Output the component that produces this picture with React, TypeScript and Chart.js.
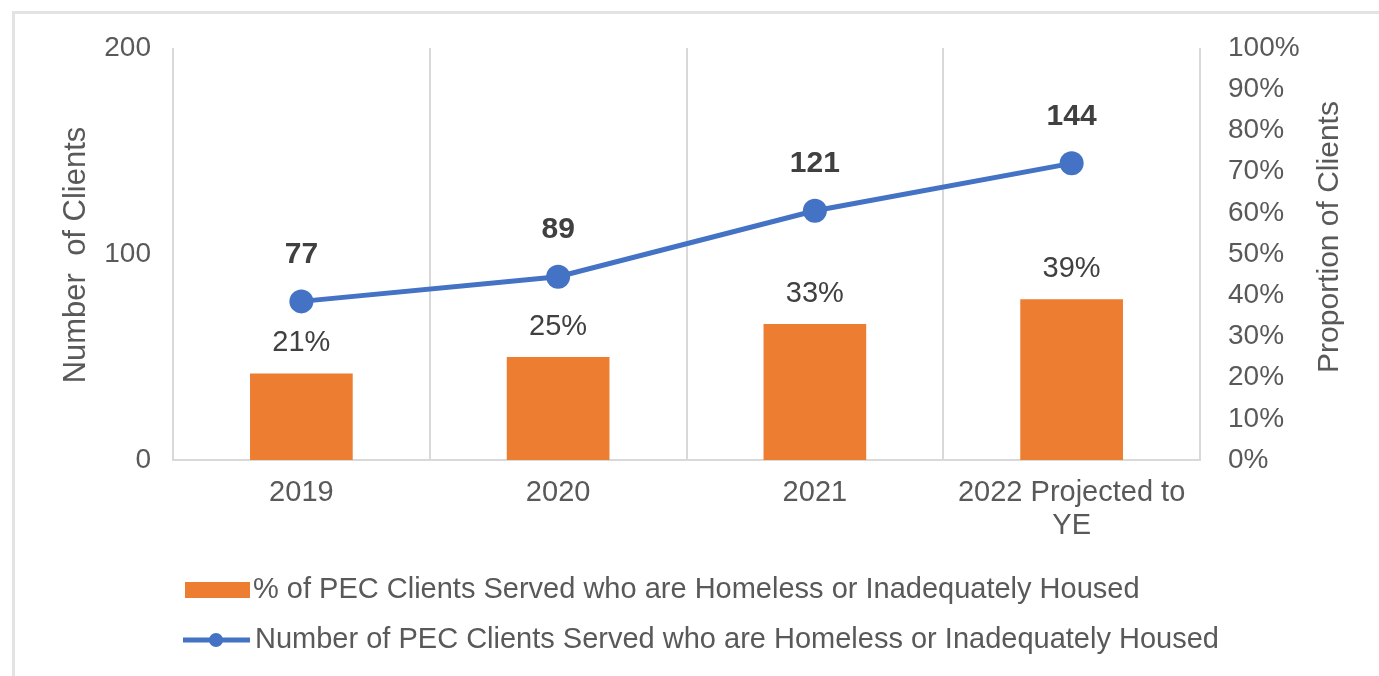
import React, { useEffect, useRef } from "react";
import { Chart, registerables } from "chart.js";

Chart.register(...registerables);

const categories: (string | string[])[] = ["2019", "2020", "2021", ["2022 Projected to", "YE"]];
const pctValues = [21, 25, 33, 39];
const countValues = [77, 89, 121, 144];
const pctLabel = "% of PEC Clients Served who are Homeless or Inadequately Housed";
const countLabel = "Number of PEC Clients Served who are Homeless or Inadequately Housed";
const leftTitle = "Number  of Clients";
const rightTitle = "Proportion of Clients";

const ORANGE = "#ED7D31";
const BLUE = "#4472C4";
const TEXT = "#595959";
const DARK = "#404040";
const GRID = "#d9d9d9";
const FONT = "'Liberation Sans', Arial, sans-serif";

const overlayPlugin = {
  id: "overlay",
  afterDatasetsDraw(chart: any) {
    const ctx = chart.ctx;
    ctx.save();
    ctx.textAlign = "center";
    ctx.textBaseline = "middle";
    chart.data.datasets.forEach((ds: any, i: number) => {
      const meta = chart.getDatasetMeta(i);
      meta.data.forEach((el: any, j: number) => {
        if (ds.type === "bar") {
          ctx.font = `29px ${FONT}`;
          ctx.fillStyle = DARK;
          ctx.fillText(ds.data[j] + "%", el.x, el.y - 30);
        } else {
          ctx.font = `bold 30px ${FONT}`;
          ctx.fillStyle = DARK;
          ctx.fillText(String(ds.data[j]), el.x, el.y - 47);
        }
      });
    });
    ctx.restore();
  },
  afterDraw(chart: any) {
    const ctx = chart.ctx;
    const area = chart.chartArea;
    ctx.save();
    ctx.fillStyle = TEXT;
    ctx.textAlign = "center";
    ctx.textBaseline = "middle";
    ctx.save();
    ctx.font = `31px ${FONT}`;
    ctx.translate(76, (area.top + area.bottom) / 2 + 1);
    ctx.rotate(-Math.PI / 2);
    ctx.fillText(leftTitle, 0, 0);
    ctx.restore();
    ctx.save();
    ctx.font = `30px ${FONT}`;
    ctx.translate(1330, (area.top + area.bottom) / 2 - 17);
    ctx.rotate(-Math.PI / 2);
    ctx.fillText(rightTitle, 0, 0);
    ctx.restore();

    // legend
    const lx = area.left + 12;
    const y1 = area.bottom + 130;
    const y2 = area.bottom + 180;
    ctx.fillStyle = ORANGE;
    ctx.fillRect(lx, y1 - 8, 65, 16);
    ctx.strokeStyle = BLUE;
    ctx.lineWidth = 5;
    ctx.beginPath();
    ctx.moveTo(lx - 2, y2);
    ctx.lineTo(lx + 65, y2);
    ctx.stroke();
    ctx.fillStyle = BLUE;
    ctx.beginPath();
    ctx.arc(lx + 31, y2, 7, 0, Math.PI * 2);
    ctx.fill();
    ctx.font = `29px ${FONT}`;
    ctx.fillStyle = TEXT;
    ctx.textAlign = "left";
    ctx.fillText(pctLabel, lx + 68, y1);
    ctx.fillText(countLabel, lx + 70, y2);
    ctx.restore();
  },
};

export default function App() {
  const ref = useRef<HTMLCanvasElement | null>(null);
  useEffect(() => {
    if (!ref.current) return;
    const chart = new Chart(ref.current, {
      data: {
        labels: categories as any,
        datasets: [
          {
            type: "bar",
            label: pctLabel,
            data: pctValues,
            backgroundColor: ORANGE,
            yAxisID: "yRight",
            barPercentage: 0.4,
            categoryPercentage: 1,
            order: 1,
          } as any,
          {
            type: "line",
            label: countLabel,
            data: countValues,
            borderColor: BLUE,
            backgroundColor: BLUE,
            borderWidth: 5,
            pointRadius: 12,
            pointHoverRadius: 12,
            pointBackgroundColor: BLUE,
            pointBorderWidth: 0,
            yAxisID: "yLeft",
            tension: 0,
            order: 0,
          } as any,
        ],
      },
      options: {
        responsive: false,
        animation: false,
        devicePixelRatio: 1,
        layout: { padding: { top: 48, left: 0, right: 0, bottom: 0 } },
        plugins: {
          legend: { display: false },
          tooltip: { enabled: false },
          title: { display: false },
        },
        scales: {
          x: {
            type: "category",
            offset: true,
            grid: { offset: true, color: GRID, lineWidth: 2, drawTicks: false },
            border: { display: true, color: GRID, width: 2 },
            ticks: {
              color: TEXT,
              font: { family: FONT, size: 29, lineHeight: 1.14 },
              padding: 16,
              maxRotation: 0,
              autoSkip: false,
            },
            afterFit: (s: any) => {
              s.height = 216;
            },
          },
          yLeft: {
            type: "linear",
            position: "left",
            min: 0,
            max: 200,
            grid: { display: false, drawTicks: false },
            border: { display: false },
            ticks: {
              stepSize: 100,
              color: TEXT,
              font: { family: FONT, size: 28 },
              padding: 22,
            },
            afterFit: (s: any) => {
              s.width = 173;
            },
          },
          yRight: {
            type: "linear",
            position: "right",
            min: 0,
            max: 100,
            grid: { display: false, drawTicks: false },
            border: { display: false },
            ticks: {
              stepSize: 10,
              color: TEXT,
              font: { family: FONT, size: 28 },
              padding: 28,
              callback: (v: any) => v + "%",
            },
            afterFit: (s: any) => {
              s.width = 179;
            },
          },
        } as any,
      },
      plugins: [overlayPlugin],
    } as any);
    return () => chart.destroy();
  }, []);

  return (
    <div style={{ position: "fixed", left: 0, top: 0, width: 1379, height: 676, background: "#fff", overflow: "hidden" }}>
      <div
        style={{
          position: "absolute",
          left: 12,
          top: 11,
          width: 1400,
          height: 720,
          border: "3px solid #e3e3e3",
          boxSizing: "border-box",
        }}
      />
      <canvas ref={ref} width={1379} height={676} style={{ position: "absolute", left: 0, top: 0 }} />
    </div>
  );
}
